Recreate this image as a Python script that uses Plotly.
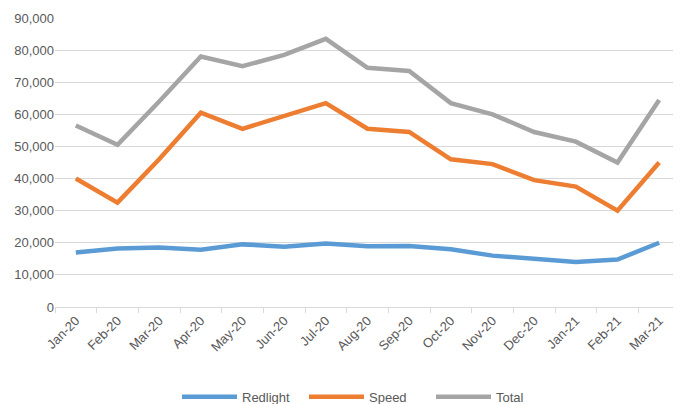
import plotly.graph_objects as go

months = ["Jan-20", "Feb-20", "Mar-20", "Apr-20", "May-20", "Jun-20", "Jul-20", "Aug-20",
          "Sep-20", "Oct-20", "Nov-20", "Dec-20", "Jan-21", "Feb-21", "Mar-21"]
redlight = [17000, 18200, 18500, 17800, 19500, 18800, 19800, 18900,
            19000, 18000, 16000, 15000, 14000, 14800, 20000]
speed = [40000, 32500, 46000, 60500, 55500, 59500, 63500, 55500,
         54500, 46000, 44500, 39500, 37500, 30000, 45000]
total = [56500, 50500, 64000, 78000, 75000, 78500, 83500, 74500,
         73500, 63500, 60000, 54500, 51500, 45000, 64500]

series = [("Redlight", redlight, "#5B9BD5"),
          ("Speed", speed, "#ED7D31"),
          ("Total", total, "#A5A5A5")]

fig = go.Figure()
for name, vals, color in series:
    fig.add_trace(go.Scatter(x=months, y=vals, name=name, mode="lines",
                             line=dict(color=color, width=4.5)))

font = dict(family="Liberation Sans Narrow, Liberation Sans, sans-serif", size=13, color="#595959")

# page body has an 8px margin, so the figure is a bit smaller than the window
fig.update_layout(
    width=673, height=396,
    paper_bgcolor="white", plot_bgcolor="white",
    font=font,
    margin=dict(l=47, r=1, t=10, b=97, autoexpand=False),
    showlegend=True,
    legend=dict(orientation="h", x=0.5, xanchor="center",
                y=-0.311, yanchor="middle",
                itemwidth=55, entrywidth=57, font=font),
)
fig.update_xaxes(
    type="category", range=[-0.5, len(months) - 0.5], automargin=False,
    tickangle=-45, showgrid=False,
    showline=True, linecolor="#D9D9D9", linewidth=1,
    ticks="outside", tickson="boundaries", ticklen=5, tickcolor="#D9D9D9",
)
fig.update_yaxes(
    range=[0, 90000], dtick=10000, tickformat=",", automargin=False,
    showgrid=True, gridcolor="#D9D9D9", gridwidth=1, zeroline=False,
    ticks="", showline=False,
)

fig.write_html("out.html")
